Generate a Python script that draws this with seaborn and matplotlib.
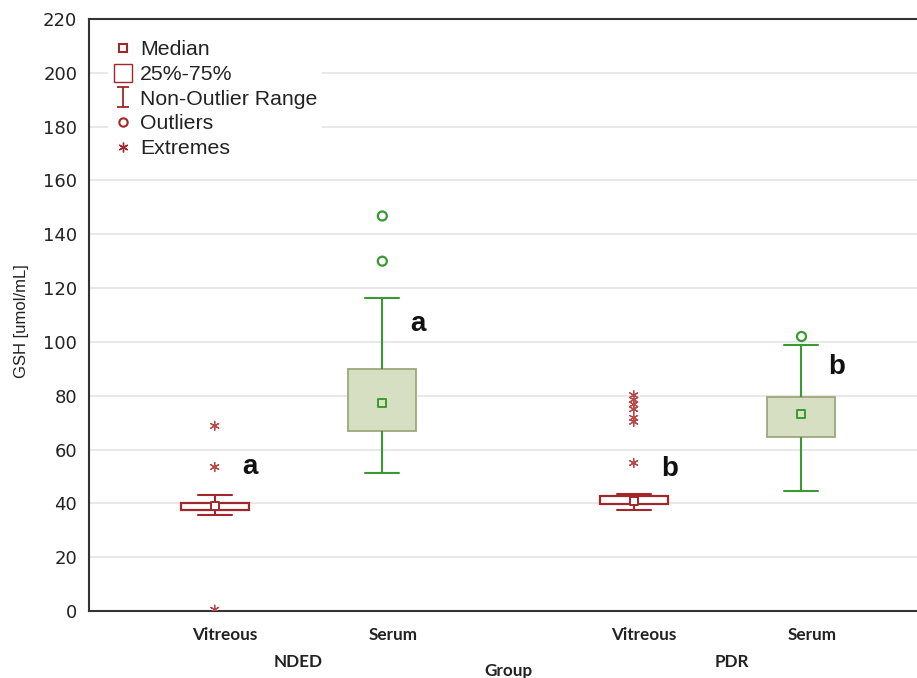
import numpy as np
import pandas as pd
import matplotlib
matplotlib.use("Agg")
import matplotlib.pyplot as plt
import matplotlib.transforms as mtransforms
import seaborn as sns
from matplotlib.lines import Line2D
from matplotlib.path import Path

# ---------------- data ----------------
groups = ["NDED", "NDED", "PDR", "PDR"]
samples = ["Vitreous", "Serum", "Vitreous", "Serum"]
whisker_low = [35.7, 51.3, 37.4, 44.6]
q1 = [37.5, 67.0, 39.7, 64.7]
medians = [39.0, 77.3, 40.8, 73.2]
q3 = [40.3, 90.0, 42.7, 79.6]
whisker_high = [43.1, 116.4, 43.6, 98.9]

outlier_group = ["NDED", "NDED", "PDR"]
outlier_sample = ["Serum", "Serum", "Serum"]
outlier_values = [146.8, 130.0, 102.2]

extreme_group = ["NDED", "NDED", "NDED", "PDR", "PDR", "PDR", "PDR", "PDR", "PDR", "PDR"]
extreme_sample = ["Vitreous"] * 10
extreme_values = [68.8, 53.5, 0.5, 80.2, 78.5, 76.8, 75.0, 71.8, 70.3, 55.0]

letters = ["a", "a", "b", "b"]
letter_y = [53.5, 106.7, 52.8, 90.7]

group_order = ["NDED", "PDR"]
sample_order = ["Vitreous", "Serum"]
y_ticks = list(range(0, 221, 20))
legend_labels = ["Median", "25%-75%", "Non-Outlier Range", "Outliers", "Extremes"]

# ---------------- style ----------------
RED = "#a3262b"
GREEN = "#3a9a32"
OLIVE = "#9ea67e"
SFILL = "#d8e4bc"
TXT = "#222222"

sns.set_style("white")
plt.rcParams["font.family"] = ["Liberation Sans", "DejaVu Sans"]

fig = plt.figure(figsize=(9.17, 6.78), dpi=100)
ax = fig.add_axes([89 / 917, 1 - 611 / 678, (927 - 89) / 917, (611 - 19) / 678])

# five-number summaries -> long table
rows = []
for g, s, a, b, c, d, e in zip(groups, samples, whisker_low, q1, medians, q3, whisker_high):
    for v in (a, b, c, d, e):
        rows.append({"Group": g, "Sample": s, "GSH": v})
box_df = pd.DataFrame(rows)

box_style = {
    "Vitreous": dict(line=RED, edge=RED, lw_box=1.6),
    "Serum": dict(line=GREEN, edge=OLIVE, lw_box=1.3),
}
fill_pal = {"Vitreous": "white", "Serum": SFILL}

for s in sample_order:
    sub = box_df[box_df["Sample"] == s]
    st = box_style[s]
    sns.boxplot(data=sub, x="Group", y="GSH", hue="Sample", order=group_order,
                hue_order=sample_order, palette=fill_pal, dodge=True, width=0.8,
                gap=0.595, whis=(0, 100), showfliers=False, linecolor=st["line"],
                linewidth=1.5, boxprops=dict(edgecolor=st["edge"], linewidth=st["lw_box"]),
                medianprops=dict(visible=False), legend=False, ax=ax)

med_df = pd.DataFrame({"Group": groups, "Sample": samples, "GSH": medians})
out_df = pd.DataFrame({"Group": outlier_group, "Sample": outlier_sample, "GSH": outlier_values})
ext_df = pd.DataFrame({"Group": extreme_group, "Sample": extreme_sample, "GSH": extreme_values})

edge_pal = {"Vitreous": RED, "Serum": GREEN}
for s in sample_order:
    sub = med_df[med_df["Sample"] == s]
    sns.stripplot(data=sub, x="Group", y="GSH", hue="Sample", order=group_order,
                  hue_order=sample_order, palette=fill_pal, dodge=True, jitter=False,
                  marker="s", size=6, edgecolor=edge_pal[s], linewidth=1.4,
                  legend=False, zorder=4, ax=ax)

sns.stripplot(data=out_df, x="Group", y="GSH", hue="Sample", order=group_order,
              hue_order=sample_order, palette={"Vitreous": "white", "Serum": "white"},
              dodge=True, jitter=False, marker="o", size=6.5, edgecolor=GREEN,
              linewidth=1.6, legend=False, zorder=4, ax=ax)

sns.stripplot(data=ext_df, x="Group", y="GSH", hue="Sample", order=group_order,
              hue_order=sample_order, palette={"Vitreous": "#b94a4a", "Serum": "#b94a4a"},
              dodge=True, jitter=False, marker=(6, 2, 0), size=6.5, edgecolor="#b94a4a",
              linewidth=0.9, legend=False, zorder=4, ax=ax)

# significance letters
for g, s, t, yv in zip(groups, samples, letters, letter_y):
    xpos = group_order.index(g) + (sample_order.index(s) - 0.5) * 0.4 + 0.085
    ax.text(xpos, yv, t, ha="center", va="center", fontsize=20, fontweight="bold",
            color="#111111", family=["Liberation Sans", "DejaVu Sans"])

# axes
ax.set_ylim(0, 220)
ax.set_xlim(-0.5, 1.5)
ax.set_yticks(y_ticks)
ax.set_yticklabels([str(v) for v in y_ticks], family=["DejaVu Sans"], fontsize=13,
                   color=TXT)
ax.yaxis.grid(True, color="#e4e4e4", linewidth=1.2)
ax.xaxis.grid(False)
ax.set_axisbelow(True)

# x axis: inward ticks at group centres, labels drawn as text
ax.set_xticks(range(len(group_order)))
ax.set_xticklabels([])
ax.tick_params(axis="x", which="major", direction="in", length=4, width=1.2, colors="#222222")
ax.tick_params(axis="y", which="major", direction="in", length=4, width=1, pad=8.5,
               colors="#888888", labelcolor=TXT)

xfont = dict(fontsize=12.3, fontweight="bold", family=["Lato", "DejaVu Sans"], color=TXT)
blend = mtransforms.blended_transform_factory(ax.transData, ax.transAxes)
shift = mtransforms.ScaledTranslation(7.5 / 72, 0, fig.dpi_scale_trans)
for gi, g in enumerate(group_order):
    for si, s in enumerate(sample_order):
        ax.text(gi + (si - 0.5) * 0.4, -(635 - 611) / 592, s, ha="center", va="center",
                transform=blend + shift, **xfont)
group_shift = {"NDED": 0.0, "PDR": 10.0}
for gi, g in enumerate(group_order):
    tr = blend + mtransforms.ScaledTranslation(group_shift[g] / 72, 0, fig.dpi_scale_trans)
    ax.text(gi, -(662 - 611) / 592, g, ha="center", va="center", transform=tr, **xfont)
ax.text(0.5, -(671 - 611) / 592, "Group", ha="center", va="center",
        transform=ax.transAxes, **xfont)

ax.set_xlabel("")
ax.set_ylabel("GSH [umol/mL]", fontsize=12, color=TXT)
ax.yaxis.set_label_coords((29 - 89) / 838, 0.49)

for side in ["left", "bottom", "top"]:
    ax.spines[side].set_visible(True)
    ax.spines[side].set_color("#333333")
    ax.spines[side].set_linewidth(1.5)
ax.spines["right"].set_visible(False)

# legend
ibar = Path([(-0.6, -1), (0.6, -1), (0, -1), (0, 1), (-0.6, 1), (0.6, 1)],
            [Path.MOVETO, Path.LINETO, Path.MOVETO, Path.LINETO, Path.MOVETO, Path.LINETO])
handles = [
    Line2D([], [], ls="none", marker="s", ms=6, mfc="white", mec=RED, mew=1.5),
    Line2D([], [], ls="none", marker="s", ms=13, mfc="white", mec=RED, mew=1.0),
    Line2D([], [], ls="none", marker=ibar, ms=15, mfc="none", mec=RED, mew=1.3),
    Line2D([], [], ls="none", marker="o", ms=6, mfc="white", mec=RED, mew=1.5),
    Line2D([], [], ls="none", marker=(6, 2, 0), ms=7, mec=RED, mew=1.0),
]
leg = ax.legend(handles, legend_labels, loc="upper left",
                bbox_to_anchor=((108 - 89) / 838, 1 - (36 - 19) / 592),
                fontsize=15.3, frameon=True, facecolor="white", edgecolor="none", framealpha=1,
                borderpad=0.2, handlelength=1.0, handletextpad=0.3, labelspacing=0.27,
                borderaxespad=0)
for t in leg.get_texts():
    t.set_color(TXT)

fig.savefig("out.png", dpi=100)
